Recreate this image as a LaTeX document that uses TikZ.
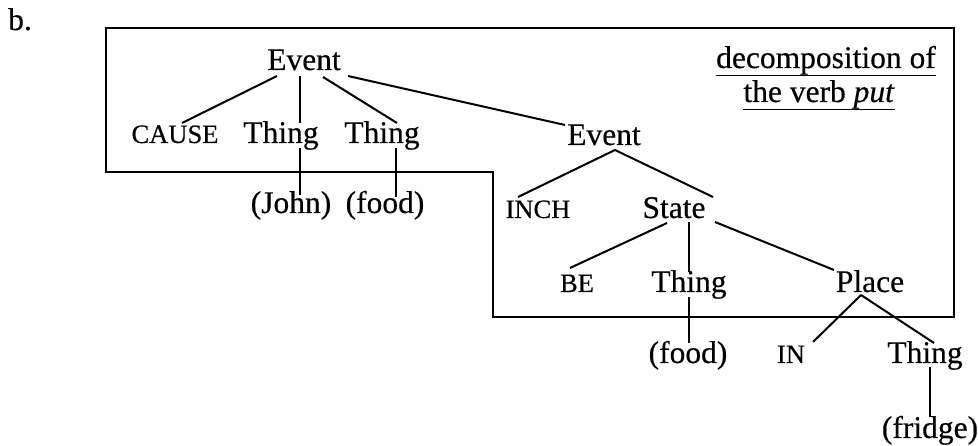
\documentclass[tikz,border=0pt]{standalone}
\usepackage{fontspec}
\setmainfont{Liberation Serif}[FakeBold=0.4]
\tikzset{
  lab/.style={inner sep=0pt, anchor=base, font=\fontsize{31.5}{36}\selectfont},
  sclab/.style={inner sep=0pt, anchor=base, font=\fontsize{26.5}{30}\selectfont},
  br/.style={line width=2pt},
  frame/.style={line width=2pt, line join=miter}
}
\begin{document}
\begin{tikzpicture}[x=1pt,y=-1pt]
\useasboundingbox (0,0) rectangle (978,446);
% label
\node[lab, anchor=base west] (b) at (8,30) {b.};
% frame
\draw[frame] (106,28) -- (954,28) -- (954,317) -- (493,317) -- (493,172) -- (106,172) -- cycle;
% title
\node[lab] (dec1) at (826,68) {decomposition of};
\node[lab] (dec2) at (819,102) {the verb \textit{put}};
\draw[line width=1.3pt] ([yshift=-0.5pt]dec1.south west) -- ([yshift=-0.5pt]dec1.south east);
\draw[line width=1.3pt] ([yshift=-0.5pt]dec2.south west) -- ([yshift=-0.5pt]dec2.south east);
% nodes
\node[lab] (e1) at (304,70) {Event};
\node[sclab] (cause) at (175,143) {CAUSE};
\node[lab] (th1) at (281,143) {Thing};
\node[lab] (th2) at (382,143) {Thing};
\node[lab] (e2) at (604,145) {Event};
\node[lab] (john) at (291,213) {(John)};
\node[lab] (food1) at (385,213) {(food)};
\node[sclab] (inch) at (538,218) {INCH};
\node[lab] (state) at (674,218) {State};
\node[sclab] (be) at (577,292) {BE};
\node[lab] (th4) at (689,292) {Thing};
\node[lab] (place) at (870,292) {Place};
\node[lab] (food2) at (688,363) {(food)};
\node[sclab] (in) at (791,363) {IN};
\node[lab] (th3) at (925,363) {Thing};
\node[lab] (fridge) at (930,438) {(fridge)};
% branches
\draw[br] ([shift={(-27,6)}]e1.base) -- ([shift={(7,-20)}]cause.base);
\draw[br] ([shift={(-4,6)}]e1.base) -- ([shift={(19,-20)}]th1.base);
\draw[br] ([shift={(19,5)}]th1.base) -- ([shift={(9,-18)}]john.base);
\draw[br] ([shift={(19,7)}]e1.base) -- ([shift={(15,-20)}]th2.base);
\draw[br] ([shift={(14,5)}]th2.base) -- ([shift={(11,-16)}]food1.base);
\draw[br] ([shift={(44,6)}]e1.base) -- ([shift={(-39,-20)}]e2.base);
\draw[br] ([shift={(11,5)}]e2.base) -- ([shift={(-20,-21)}]inch.base);
\draw[br] ([shift={(11,5)}]e2.base) -- ([shift={(39,-21)}]state.base);
\draw[br] ([shift={(-7,5)}]state.base) -- ([shift={(-7,-24)}]be.base);
\draw[br] ([shift={(15,4)}]state.base) -- ([shift={(0,-20)}]th4.base);
\draw[br] ([shift={(0,5)}]th4.base) -- ([shift={(1,-20)}]food2.base);
\draw[br] ([shift={(41,4)}]state.base) -- ([shift={(-36,-22)}]place.base);
\draw[br] ([shift={(-9,3)}]place.base) -- ([shift={(22,-21)}]in.base);
\draw[br] ([shift={(-9,3)}]place.base) -- ([shift={(9,-20)}]th3.base);
\draw[br] ([shift={(5,4)}]th3.base) -- ([shift={(0,-21)}]fridge.base);
\end{tikzpicture}
\end{document}
